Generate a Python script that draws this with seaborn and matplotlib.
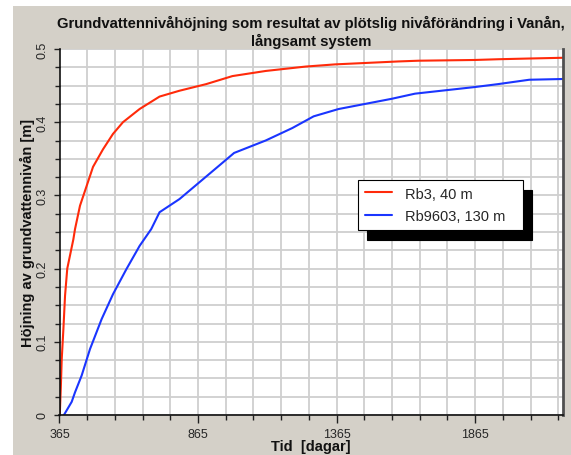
import numpy as np
import pandas as pd
import matplotlib
matplotlib.use("Agg")
import matplotlib.pyplot as plt
from matplotlib.patches import Rectangle
from matplotlib.ticker import MultipleLocator, FixedLocator
import seaborn as sns

# Grundvattennivå efter plötslig nivåförändring (dagar, meter)
rb3_dagar = [366, 370, 373, 379, 385, 393, 415, 421, 439, 463, 486, 522, 558,
             594, 654, 726, 798, 894, 989, 1109, 1253, 1360, 1588, 1660, 1863,
             1947, 2060, 2180]
rb3_hojning = [0.0, 0.040, 0.076, 0.117, 0.163, 0.200, 0.240, 0.254, 0.286,
               0.313, 0.339, 0.363, 0.384, 0.400, 0.418, 0.435, 0.443, 0.452,
               0.463, 0.470, 0.476, 0.479, 0.483, 0.484, 0.485, 0.486, 0.487,
               0.488]

rb9603_dagar = [381, 409, 421, 445, 475, 517, 558, 606, 654, 696, 726, 798,
                870, 942, 995, 1109, 1205, 1282, 1372, 1468, 1564, 1648, 1767,
                1863, 1947, 2060, 2180]
rb9603_hojning = [0.0, 0.018, 0.031, 0.054, 0.090, 0.131, 0.165, 0.199, 0.231,
                  0.254, 0.277, 0.295, 0.318, 0.341, 0.358, 0.375, 0.392,
                  0.408, 0.418, 0.425, 0.432, 0.439, 0.444, 0.448, 0.452,
                  0.458, 0.459]

serier = ["Rb3, 40 m", "Rb9603, 130 m"]
farger = {"Rb3, 40 m": "#ff2a0a", "Rb9603, 130 m": "#1a35ff"}

x_etiketter = [365, 865, 1365, 1865]
y_etiketter = [0, 0.1, 0.2, 0.3, 0.4, 0.5]

df = pd.concat([
    pd.DataFrame({"Tid": rb3_dagar, "Höjning": rb3_hojning, "Serie": serier[0]}),
    pd.DataFrame({"Tid": rb9603_dagar, "Höjning": rb9603_hojning, "Serie": serier[1]}),
], ignore_index=True)

sns.set_theme(style="white")
plt.rcParams["font.family"] = ["Liberation Sans", "DejaVu Sans"]

bg = "#d4d0c8"
fig = plt.figure(figsize=(5.71, 4.56), dpi=100, facecolor="white")
fig.patches.append(Rectangle((13 / 571, 0), 1, (456 - 7) / 456,
                             transform=fig.transFigure, facecolor=bg,
                             edgecolor="none", zorder=-10))

left, right = 59.5 / 571, 562.5 / 571
bottom, top = 1 - 416 / 456, 1 - 50 / 456
ax = fig.add_axes([left, bottom, right - left, top - bottom])
ax.set_facecolor("white")

sns.lineplot(data=df, x="Tid", y="Höjning", hue="Serie", palette=farger,
             hue_order=serier, estimator=None, sort=False, linewidth=1.5,
             ax=ax, legend=False)

ax.set_xlim(365, 2180)
ax.set_ylim(0, 0.5)

ax.xaxis.set_major_locator(FixedLocator(x_etiketter))
ax.xaxis.set_minor_locator(FixedLocator(np.arange(365, 2180, 100)))
ax.set_xticklabels([str(v) for v in x_etiketter])
ax.yaxis.set_major_locator(FixedLocator(y_etiketter))
ax.yaxis.set_minor_locator(MultipleLocator(0.025))
ax.set_yticklabels(["0" if v == 0 else f"{v:.1f}" for v in y_etiketter],
                   rotation=90, va="center")

ax.grid(True, which="both", color="#cfcfcf", linewidth=1.3)
ax.set_axisbelow(True)

ax.tick_params(axis="x", which="major", length=5.8, width=1, color="#202020",
               pad=3.5, labelsize=9, bottom=True, direction="out")
ax.tick_params(axis="x", which="minor", length=3.6, width=1, color="#202020",
               bottom=True, direction="out")
ax.tick_params(axis="y", which="major", length=4.5, width=1, color="#202020",
               pad=3.2, labelsize=9, left=True, direction="out")
ax.tick_params(axis="y", which="minor", length=3.5, width=1, color="#202020",
               left=True, direction="out")

for side in ("left", "bottom"):
    ax.spines[side].set_color("#101010")
    ax.spines[side].set_linewidth(1.2)
ax.spines["right"].set_color("#505050")
ax.spines["right"].set_linewidth(2)
ax.spines["top"].set_visible(False)

ax.set_title("Grundvattennivåhöjning som resultat av plötslig nivåförändring i Vanån,\n"
             "långsamt system", fontsize=10.7, fontweight="bold", pad=3,
             linespacing=1.2, color="#111111")
ax.set_xlabel("Tid  [dagar]", fontsize=10.5, fontweight="bold", va="center",
              color="#111111")
ax.xaxis.set_label_coords(0.5, (416 - 447.5) / 366)
ax.set_ylabel("Höjning av grundvattennivån [m]", fontsize=10.5,
              fontweight="bold", va="center", color="#111111")
ax.yaxis.set_label_coords((27.5 - 59.5) / 503, 0.5)

handles = [plt.Line2D([], [], color=farger[s], linewidth=1.5) for s in serier]
leg_x0, leg_top = (358 - 59.5) / 503, (416 - 181) / 366
leg_w = (523 - 358) / 503
leg = ax.legend(handles, serier, loc="upper left", mode="expand",
                bbox_to_anchor=(leg_x0, leg_top - 0.2, leg_w, 0.2),
                borderaxespad=0, frameon=True, fancybox=False,
                edgecolor="black", framealpha=1, facecolor="white",
                fontsize=10.5, borderpad=0.45, labelspacing=0.6,
                handlelength=1.9, handletextpad=0.9,
                shadow={"ox": 6.5, "oy": -7, "color": "black", "alpha": 1})
leg.get_frame().set_linewidth(0.8)

fig.savefig("out.png", dpi=100, facecolor=fig.get_facecolor())
